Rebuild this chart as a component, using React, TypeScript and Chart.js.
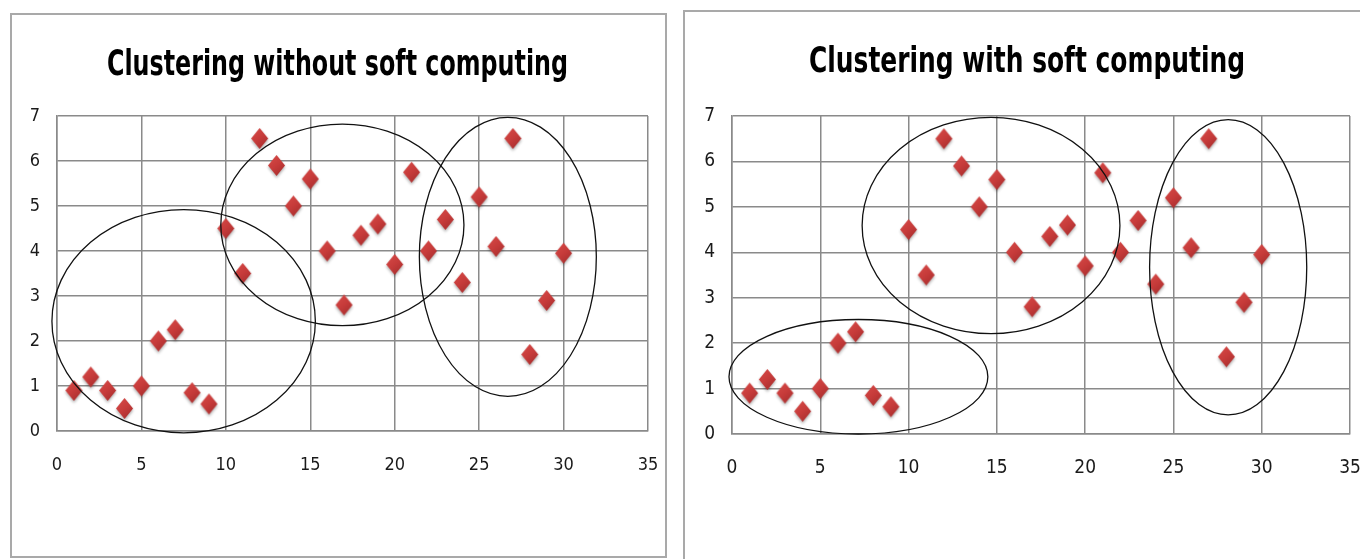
import React, { useEffect, useRef } from "react";
import { Chart, registerables } from "chart.js";

Chart.register(...registerables);

// ---- data ----
const xValues = [1, 2, 3, 4, 5, 6, 7, 8, 9, 10, 11, 12, 13, 14, 15, 16, 17, 18, 19, 20, 21, 22, 23, 24, 25, 26, 27, 28, 29, 30];
const yValues = [0.9, 1.2, 0.9, 0.5, 1.0, 2.0, 2.25, 0.85, 0.6, 4.5, 3.5, 6.5, 5.9, 5.0, 5.6, 4.0, 2.8, 4.35, 4.6, 3.7, 5.75, 4.0, 4.7, 3.3, 5.2, 4.1, 6.5, 1.7, 2.9, 3.95];
const xTickValues = [0, 5, 10, 15, 20, 25, 30, 35];
const yTickValues = [0, 1, 2, 3, 4, 5, 6, 7];
const leftTitle = "Clustering without soft computing";
const rightTitle = "Clustering with soft computing";
// cluster outlines in data units: [centerX, centerY, radiusX, radiusY]
const leftClusters = [
  [7.5, 2.44, 7.8, 2.48],
  [16.9, 4.58, 7.2, 2.24],
  [26.7, 3.87, 5.24, 3.1],
];
const rightClusters = [
  [7.16, 1.26, 7.33, 1.26],
  [14.67, 4.59, 7.3, 2.38],
  [28.1, 3.67, 4.45, 3.25],
];

const FONT = "'DejaVu Sans Condensed', 'Liberation Sans', sans-serif";

function makeDiamond(w: number, h: number): HTMLCanvasElement {
  const pad = 5;
  const c = document.createElement("canvas");
  c.width = w + pad * 2;
  c.height = h + pad * 2;
  const ctx = c.getContext("2d")!;
  const cx = c.width / 2;
  const cy = c.height / 2;
  ctx.shadowColor = "rgba(0,0,0,0.3)";
  ctx.shadowBlur = 3;
  ctx.shadowOffsetY = 2;
  const g = ctx.createLinearGradient(pad, pad, pad + w, pad + h);
  g.addColorStop(0, "#d84b48");
  g.addColorStop(0.5, "#c63b3a");
  g.addColorStop(1, "#a02b2b");
  ctx.fillStyle = g;
  ctx.beginPath();
  ctx.moveTo(cx, cy - h / 2);
  ctx.lineTo(cx + w / 2, cy);
  ctx.lineTo(cx, cy + h / 2);
  ctx.lineTo(cx - w / 2, cy);
  ctx.closePath();
  ctx.fill();
  return c;
}

type BoxProps = {
  title: string;
  titleSize: number;
  titleWidth: number;
  titleX: number;
  titleBaseline: number;
  tickSize: number;
  clusters: number[][];
  left: number;
  top: number;
  width: number;
  height: number;
  yAxisWidth: number;
  padRight: number;
  padTop: number;
  padBottom: number;
  xTickPad: number;
  yTickPad: number;
};

function ScatterBox(p: BoxProps) {
  const ref = useRef<HTMLCanvasElement | null>(null);
  useEffect(() => {
    if (!ref.current) return;
    const diamond = makeDiamond(17, 21);
    const ellipsePlugin = {
      id: "clusterEllipses",
      afterDatasetsDraw(chart: any) {
        const { ctx } = chart;
        const xs = chart.scales.x;
        const ys = chart.scales.y;
        ctx.save();
        ctx.strokeStyle = "#111";
        ctx.lineWidth = 1.3;
        p.clusters.forEach(([ecx, ecy, erx, ery]) => {
          const cx = xs.getPixelForValue(ecx);
          const cy = ys.getPixelForValue(ecy);
          const rx = Math.abs(xs.getPixelForValue(ecx + erx) - cx);
          const ry = Math.abs(ys.getPixelForValue(ecy + ery) - cy);
          ctx.beginPath();
          ctx.ellipse(cx, cy, rx, ry, 0, 0, Math.PI * 2);
          ctx.stroke();
        });
        ctx.restore();
      },
    };
    const titlePlugin = {
      id: "fittedTitle",
      afterDraw(chart: any) {
        const ctx = chart.ctx;
        ctx.save();
        ctx.font = `bold ${p.titleSize}px ${FONT}`;
        ctx.fillStyle = "#000";
        ctx.textAlign = "center";
        ctx.textBaseline = "alphabetic";
        const w = ctx.measureText(p.title).width;
        ctx.translate(p.titleX, p.titleBaseline);
        ctx.scale(p.titleWidth / w, 1);
        ctx.fillText(p.title, 0, 0);
        ctx.restore();
      },
    };
    const gridColor = "#8a8a8a";
    const tickFont = { family: FONT, size: p.tickSize };
    const chart = new Chart(ref.current, {
      type: "scatter",
      data: {
        datasets: [
          {
            data: xValues.map((x, i) => ({ x, y: yValues[i] })),
            pointStyle: diamond as any,
            pointRadius: 10,
            pointHoverRadius: 10,
          },
        ],
      },
      options: {
        animation: false,
        responsive: false,
        events: [],
        layout: { padding: { left: 0, right: p.padRight, top: p.padTop, bottom: p.padBottom } },
        plugins: {
          legend: { display: false },
          tooltip: { enabled: false },
          title: { display: false },
        },
        scales: {
          x: {
            type: "linear",
            min: 0,
            max: 35,
            afterBuildTicks: (scale: any) => {
              scale.ticks = xTickValues.map((v) => ({ value: v }));
            },
            afterFit: (scale: any) => {
              scale.height = 40;
              scale.paddingLeft = 0;
              scale.paddingRight = 0;
            },
            ticks: { color: "#1a1a1a", font: tickFont, padding: p.xTickPad, maxRotation: 0 },
            grid: { color: gridColor, lineWidth: 1.5, drawTicks: false },
            border: { display: true, color: gridColor, width: 1.5 },
          },
          y: {
            type: "linear",
            min: 0,
            max: 7,
            afterBuildTicks: (scale: any) => {
              scale.ticks = yTickValues.map((v) => ({ value: v }));
            },
            afterFit: (scale: any) => {
              scale.width = p.yAxisWidth;
            },
            ticks: { color: "#1a1a1a", font: tickFont, padding: p.yTickPad },
            grid: { color: gridColor, lineWidth: 1.5, drawTicks: false },
            border: { display: true, color: gridColor, width: 1.5 },
          },
        },
      },
      plugins: [ellipsePlugin, titlePlugin],
    });
    return () => chart.destroy();
  }, []);
  return (
    <canvas
      ref={ref}
      width={p.width}
      height={p.height}
      style={{ position: "absolute", left: p.left, top: p.top, width: p.width, height: p.height }}
    />
  );
}

export default function App() {
  return (
    <div
      style={{
        position: "fixed",
        left: 0,
        top: 0,
        width: 1360,
        height: 559,
        overflow: "hidden",
        background: "#fff",
      }}
    >
      <div
        style={{
          position: "absolute",
          left: 10,
          top: 13,
          width: 657,
          height: 545,
          border: "2px solid #a9a9a9",
          boxSizing: "border-box",
        }}
      />
      <div
        style={{
          position: "absolute",
          left: 683,
          top: 10,
          width: 720,
          height: 620,
          border: "2px solid #a9a9a9",
          boxSizing: "border-box",
        }}
      />
      <ScatterBox
        title={leftTitle}
        titleSize={36}
        titleWidth={461}
        titleX={326.5}
        titleBaseline={61}
        tickSize={18}
        clusters={leftClusters}
        left={11}
        top={14}
        width={655}
        height={543}
        yAxisWidth={46}
        padRight={18}
        padTop={102}
        padBottom={86}
        xTickPad={24}
        yTickPad={17}
      />
      <ScatterBox
        title={rightTitle}
        titleSize={36}
        titleWidth={436}
        titleX={343}
        titleBaseline={61}
        tickSize={19}
        clusters={rightClusters}
        left={684}
        top={11}
        width={690}
        height={570}
        yAxisWidth={48}
        padRight={24}
        padTop={105}
        padBottom={107}
        xTickPad={23}
        yTickPad={17}
      />
    </div>
  );
}
